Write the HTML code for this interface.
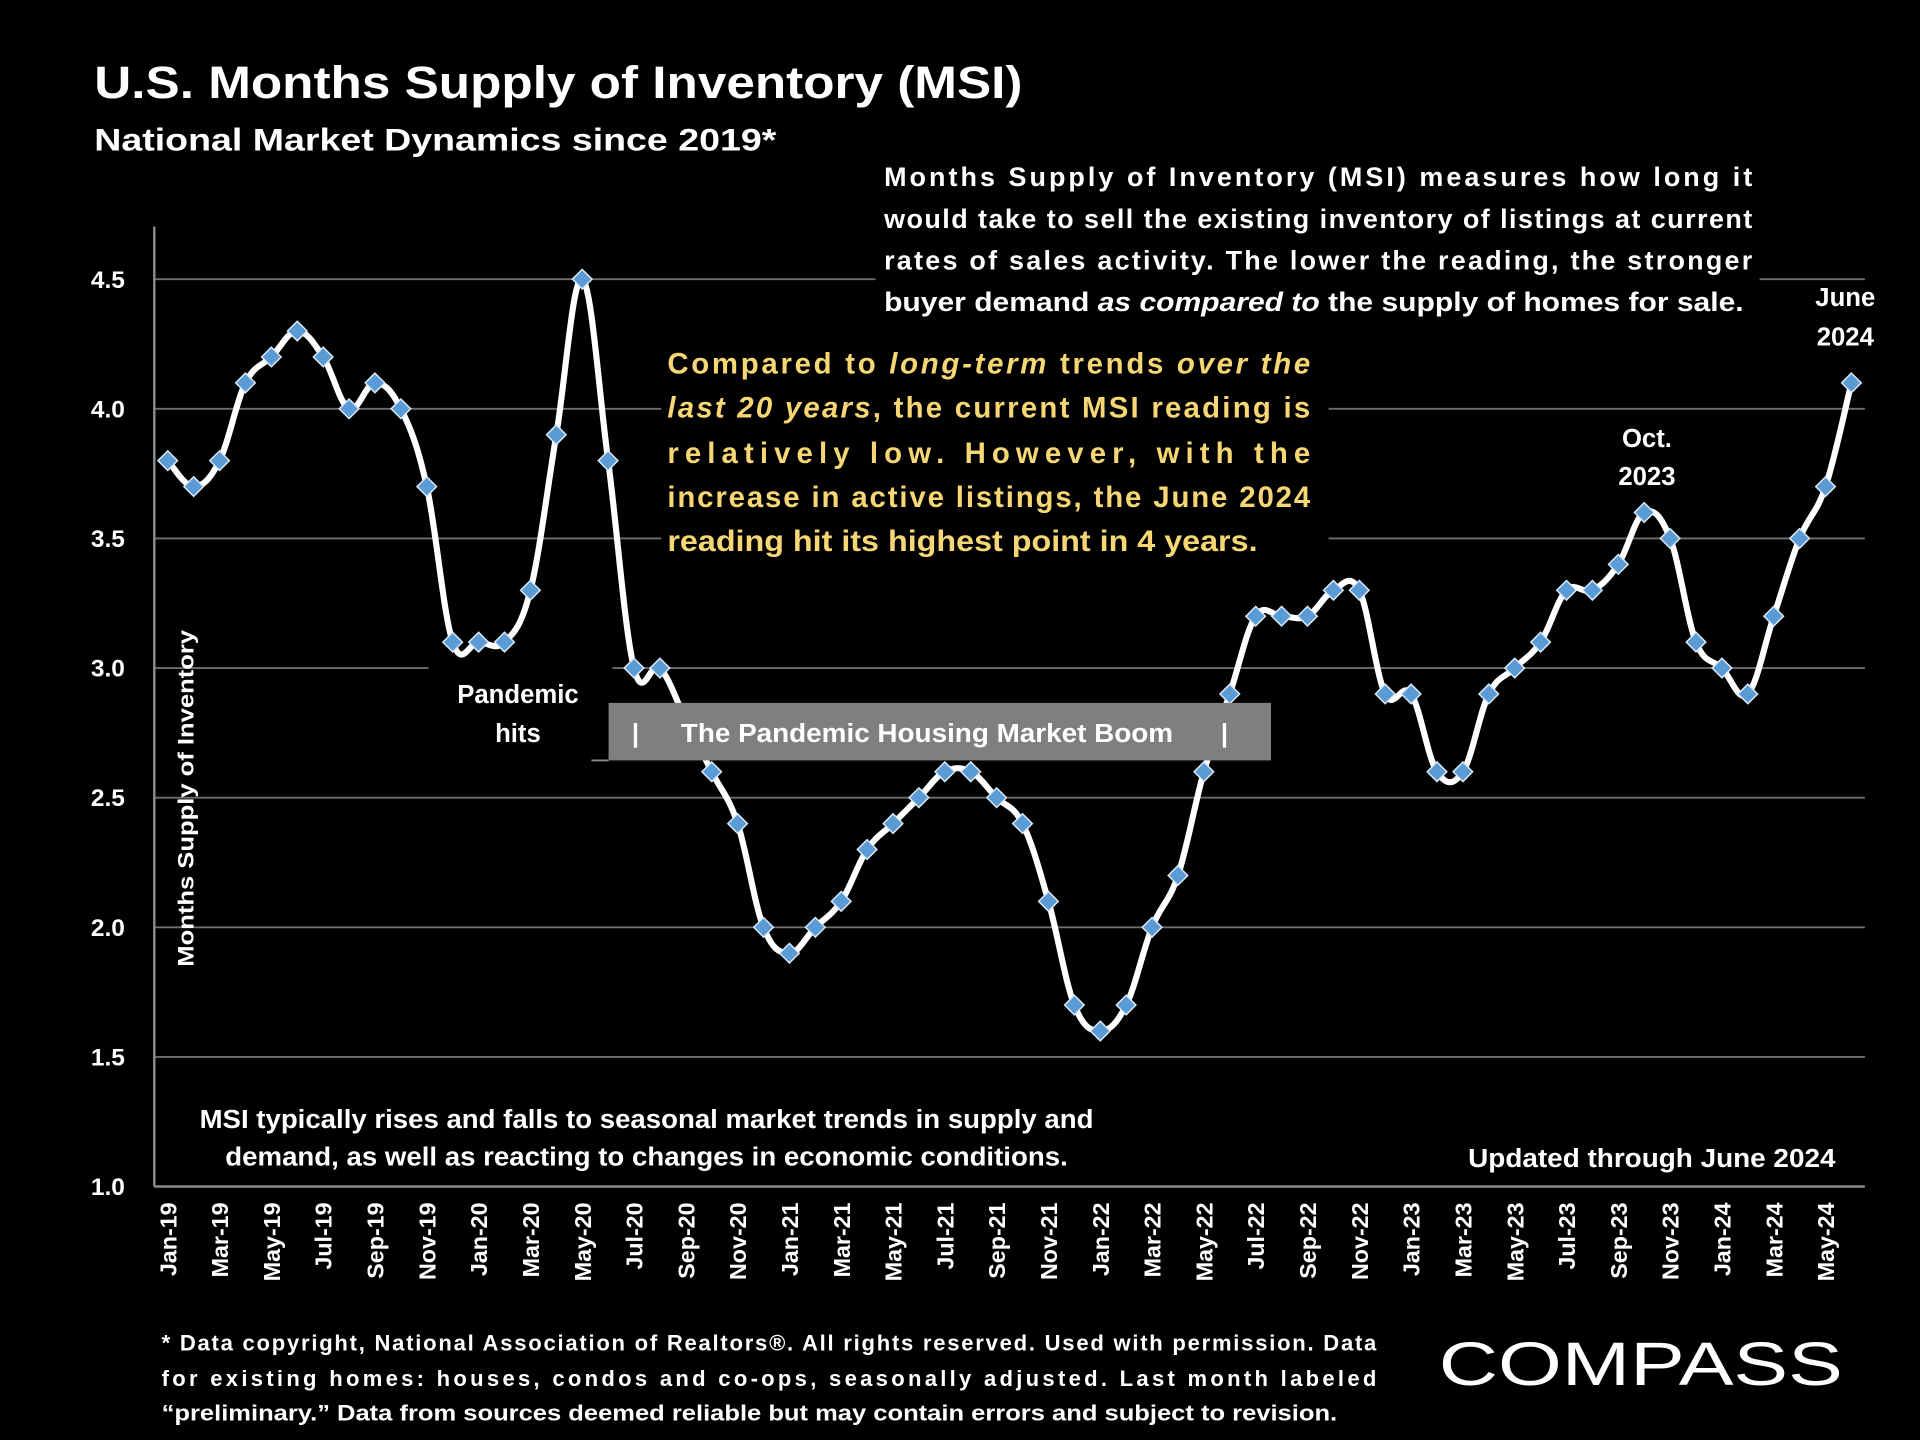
<!DOCTYPE html>
<html><head><meta charset="utf-8"><style>
html,body{margin:0;padding:0;background:#000;width:1920px;height:1440px;overflow:hidden}
svg{display:block}
text{font-family:"Liberation Sans",Arial,sans-serif;font-weight:bold;fill:#fff}
</style></head><body>
<svg id="chart" width="1920" height="1440" viewBox="0 0 1568 1176" xmlns="http://www.w3.org/2000/svg">
<rect width="1568" height="1176" fill="#000"/>
<g id="grid"></g>
<g id="masks"></g>
<line x1="126" y1="185" x2="126" y2="969" stroke="#8a8a8a" stroke-width="2"/>
<line x1="126" y1="969" x2="1523" y2="969" stroke="#8a8a8a" stroke-width="2"/>
<g id="yticks"></g>
<g id="xticks"></g>
<text x="77" y="80" font-size="37" textLength="758" lengthAdjust="spacingAndGlyphs">U.S. Months Supply of Inventory (MSI)</text>
<text x="77" y="123" font-size="26" textLength="557" lengthAdjust="spacingAndGlyphs">National Market Dynamics since 2019*</text>
<g font-size="22">
<text x="722" y="152" textLength="709" lengthAdjust="spacing">Months Supply of Inventory (MSI) measures how long it</text>
<text x="722" y="186" textLength="709" lengthAdjust="spacing">would take to sell the existing inventory of listings at current</text>
<text x="722" y="220" textLength="709" lengthAdjust="spacing">rates of sales activity. The lower the reading, the stronger</text>
<text x="722" y="254" textLength="702" lengthAdjust="spacingAndGlyphs">buyer demand <tspan font-style="italic">as compared to</tspan> the supply of homes for sale.</text>
</g>
<g font-size="24" style="fill:#f7d774">
<text x="545" y="305" textLength="525" lengthAdjust="spacing" style="fill:#f7d774">Compared to <tspan font-style="italic">long-term</tspan> trends <tspan font-style="italic">over the</tspan></text>
<text x="545" y="341" textLength="525" lengthAdjust="spacing" style="fill:#f7d774"><tspan font-style="italic">last 20 years</tspan>, the current MSI reading is</text>
<text x="545" y="378" textLength="525" lengthAdjust="spacing" style="fill:#f7d774">relatively  low.  However,  with  the</text>
<text x="545" y="414" textLength="525" lengthAdjust="spacing" style="fill:#f7d774">increase in active listings, the June 2024</text>
<text x="545" y="450" textLength="482" lengthAdjust="spacingAndGlyphs" style="fill:#f7d774">reading hit its highest point in 4 years.</text>
</g>
<g id="series"></g>
<g font-size="21" text-anchor="middle"><text x="1507" y="250">June</text><text x="1507" y="282">2024</text></g>
<g font-size="21" text-anchor="middle"><text x="1345" y="365">Oct.</text><text x="1345" y="396">2023</text></g>
<g font-size="21" text-anchor="middle"><text x="423" y="574">Pandemic</text><text x="423" y="606">hits</text></g>
<g>
<line x1="483" y1="621" x2="497" y2="621" stroke="#888" stroke-width="1.5"/>
<rect x="497" y="574" width="541" height="47" fill="#7f7f7f"/>
<text x="519" y="606" font-size="21" text-anchor="middle">|</text>
<text x="757" y="606" font-size="21" text-anchor="middle" textLength="402" lengthAdjust="spacingAndGlyphs">The Pandemic Housing Market Boom</text>
<text x="1000" y="606" font-size="21" text-anchor="middle">|</text>
</g>
<text transform="translate(158,652) rotate(-90)" font-size="18" text-anchor="middle" textLength="275" lengthAdjust="spacingAndGlyphs">Months Supply of Inventory</text>
<g font-size="21" text-anchor="middle">
<text x="528" y="921" textLength="730" lengthAdjust="spacingAndGlyphs">MSI typically rises and falls to seasonal market trends in supply and</text>
<text x="528" y="952" textLength="688" lengthAdjust="spacingAndGlyphs">demand, as well as reacting to changes in economic conditions.</text>
</g>
<text x="1499" y="953" font-size="21" text-anchor="end" textLength="300" lengthAdjust="spacingAndGlyphs">Updated through June 2024</text>
<g font-size="18">
<text x="132" y="1103" textLength="992" lengthAdjust="spacing">* Data copyright, National Association of Realtors®. All rights reserved. Used with permission. Data</text>
<text x="132" y="1132" textLength="992" lengthAdjust="spacing">for  existing  homes:  houses,  condos  and  co-ops,  seasonally  adjusted.  Last  month  labeled</text>
<text x="132" y="1160" textLength="960" lengthAdjust="spacingAndGlyphs">“preliminary.” Data from sources deemed reliable but may contain errors and subject to revision.</text>
</g>
<text x="1175" y="1131" font-size="50" font-weight="normal" style="font-weight:normal" textLength="330" lengthAdjust="spacingAndGlyphs">COMPASS</text>
</svg>
<script>
const categories=["Jan-19","Feb-19","Mar-19","Apr-19","May-19","Jun-19","Jul-19","Aug-19","Sep-19","Oct-19","Nov-19","Dec-19","Jan-20","Feb-20","Mar-20","Apr-20","May-20","Jun-20","Jul-20","Aug-20","Sep-20","Oct-20","Nov-20","Dec-20","Jan-21","Feb-21","Mar-21","Apr-21","May-21","Jun-21","Jul-21","Aug-21","Sep-21","Oct-21","Nov-21","Dec-21","Jan-22","Feb-22","Mar-22","Apr-22","May-22","Jun-22","Jul-22","Aug-22","Sep-22","Oct-22","Nov-22","Dec-22","Jan-23","Feb-23","Mar-23","Apr-23","May-23","Jun-23","Jul-23","Aug-23","Sep-23","Oct-23","Nov-23","Dec-23","Jan-24","Feb-24","Mar-24","Apr-24","May-24","Jun-24"];
const msiValues=[3.8,3.7,3.8,4.1,4.2,4.3,4.2,4.0,4.1,4.0,3.7,3.1,3.1,3.1,3.3,3.9,4.5,3.8,3.0,3.0,2.8,2.6,2.4,2.0,1.9,2.0,2.1,2.3,2.4,2.5,2.6,2.6,2.5,2.4,2.1,1.7,1.6,1.7,2.0,2.2,2.6,2.9,3.2,3.2,3.2,3.3,3.3,2.9,2.9,2.6,2.6,2.9,3.0,3.1,3.3,3.3,3.4,3.6,3.5,3.1,3.0,2.9,3.2,3.5,3.7,4.1];
const yTicks=[1.0,1.5,2.0,2.5,3.0,3.5,4.0,4.5];
const NS="http://www.w3.org/2000/svg";
function xPos(i){return 137+i*(1512-137)/(categories.length-1);}
function yPos(v){return 969-(v-1.0)*(969-228)/3.5;}
function mk(tag,attrs,parent){const e=document.createElementNS(NS,tag);for(const k in attrs)e.setAttribute(k,attrs[k]);parent.appendChild(e);return e;}
const grid=document.getElementById('grid');
yTicks.forEach(v=>{if(v>1.0){const l=mk('line',{x1:126,x2:1523,y1:yPos(v),y2:yPos(v),stroke:'#6e6e6e','stroke-width':1.5},grid);

}});
const masks=document.getElementById('masks');
[[715,128,722,134],[540,280,545,180],[350,540,150,80],[150,895,760,70],[1190,925,320,40]].forEach(r=>{mk('rect',{x:r[0],y:r[1],width:r[2],height:r[3],fill:'#000'},masks);});
const yt=document.getElementById('yticks');
yTicks.forEach(v=>{const t=mk('text',{x:102,y:yPos(v)+7,'font-size':20,'text-anchor':'end'},yt);t.textContent=v.toFixed(1);

});
const xt=document.getElementById('xticks');
categories.forEach((c,i)=>{if(i%2===0){const x=xPos(i)+7;const t=mk('text',{transform:`translate(${x},982) rotate(-90)`,'font-size':19,'text-anchor':'end'},xt);t.textContent=c;

}});
const s=document.getElementById('series');
const pts=msiValues.map((v,i)=>[xPos(i),yPos(v)]);
let d=`M${pts[0][0]},${pts[0][1]}`;
for(let i=0;i<pts.length-1;i++){const p0=pts[i-1]||pts[i],p1=pts[i],p2=pts[i+1],p3=pts[i+2]||p2;const t=0.18;
d+=` C${p1[0]+(p2[0]-p0[0])*t},${p1[1]+(p2[1]-p0[1])*t} ${p2[0]-(p3[0]-p1[0])*t},${p2[1]-(p3[1]-p1[1])*t} ${p2[0]},${p2[1]}`;}
const line=mk('path',{d:d,fill:'none',stroke:'#fff','stroke-width':5,'stroke-linejoin':'round'},s);


pts.forEach((p,i)=>{const r=8;const m=mk('polygon',{points:`${p[0]},${p[1]-r} ${p[0]+r},${p[1]} ${p[0]},${p[1]+r} ${p[0]-r},${p[1]}`,fill:'#5b9bd5',stroke:'#dce9f7','stroke-width':1.2},s);

});
</script>
</body></html>
